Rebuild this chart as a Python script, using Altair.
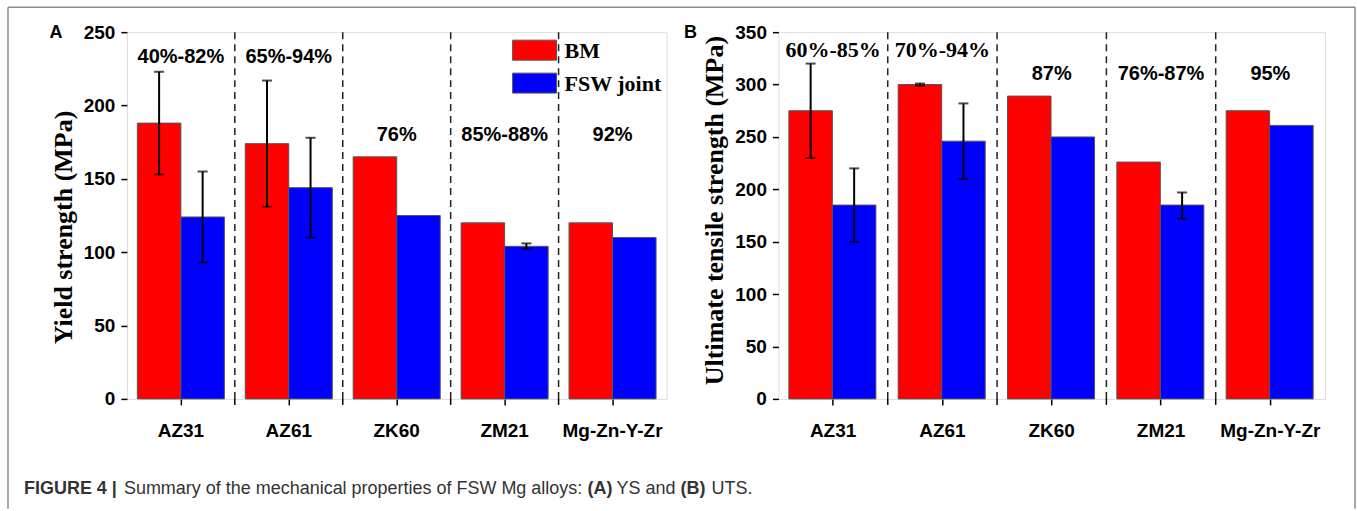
import altair as alt
import pandas as pd

# ---------------- data ----------------
categories = ["AZ31", "AZ61", "ZK60", "ZM21", "Mg-Zn-Y-Zr"]
series = ["BM", "FSW joint"]

# Panel A: yield strength (MPa)
ys_bm = [188, 174, 165, 120, 120]
ys_fsw = [124, 144, 125, 104, 110]
ys_bm_lo = [153, 131, None, None, None]
ys_bm_hi = [223, 217, None, None, None]
ys_fsw_lo = [93, 110, None, 102, None]
ys_fsw_hi = [155, 178, None, 106, None]
ys_ratio = ["40%-82%", "65%-94%", "76%", "85%-88%", "92%"]
ys_ratio_y = [233, 233, 180, 180, 180]

# Panel B: ultimate tensile strength (MPa)
uts_bm = [275, 300, 289, 226, 275]
uts_fsw = [185, 246, 250, 185, 261]
uts_bm_lo = [230, 299, None, None, None]
uts_bm_hi = [320, 301, None, None, None]
uts_fsw_lo = [150, 210, None, 172, None]
uts_fsw_hi = [220, 282, None, 197, None]
uts_ratio = ["60%-85%", "70%-94%", "87%", "76%-87%", "95%"]
uts_ratio_y = [333, 333, 310, 310, 310]

caption_parts = [("FIGURE 4 |", True), ("Summary of the mechanical properties of FSW Mg alloys:", False),
                 ("(A)", True), ("YS and", False), ("(B)", True), ("UTS.", False)]

SANS = "Liberation Sans, Arial, Helvetica, sans-serif"
SERIF = "Liberation Serif, Times New Roman, serif"
H = 367


def bars_df(bm, fsw):
    rows = []
    for i, c in enumerate(categories):
        rows.append({"cat": c, "series": series[0], "value": bm[i]})
        rows.append({"cat": c, "series": series[1], "value": fsw[i]})
    return pd.DataFrame(rows)


def err_df(bm_lo, bm_hi, fsw_lo, fsw_hi):
    rows = []
    for i, c in enumerate(categories):
        if bm_lo[i] is not None:
            rows.append({"cat": c, "series": series[0], "lo": bm_lo[i], "hi": bm_hi[i]})
        if fsw_lo[i] is not None:
            rows.append({"cat": c, "series": series[1], "lo": fsw_lo[i], "hi": fsw_hi[i]})
    return pd.DataFrame(rows)


def one(**kw):
    return pd.DataFrame([kw])


def panel(bm, fsw, bm_lo, bm_hi, fsw_lo, fsw_hi, ratios, ratio_y, ymax, title,
          W, title_x, title_y, letter, letter_x, serif_n, extra=None):
    xscale = alt.Scale(domain=categories, paddingInner=0, paddingOuter=0)
    xaxis = alt.Axis(title=None, labelFont=SANS, labelFontSize=19, labelFontWeight="bold",
                     labelColor="black", labelAngle=0, labelPadding=17, tickSize=6,
                     tickColor="black", tickWidth=1.5, domain=False, grid=False,
                     bandPosition=0.5)
    yaxis = alt.Axis(title=title, values=list(range(0, ymax + 1, 50)), labelFont=SANS,
                     labelFontSize=19, labelFontWeight="bold", labelColor="black",
                     labelPadding=6, tickSize=6, tickColor="black", tickWidth=1.5,
                     domain=False, grid=False, titleFont=SERIF, titleFontSize=26,
                     titleFontWeight="bold", titleColor="black", titleX=title_x,
                     titleY=title_y, titleAngle=270, titleAlign="center",
                     titleBaseline="middle")
    yscale = alt.Scale(domain=[0, ymax], nice=False)
    xoff = alt.XOffset("series:N", sort=series,
                       scale=alt.Scale(domain=series, paddingInner=0, paddingOuter=0.24))
    color = alt.Color("series:N", scale=alt.Scale(domain=series, range=["#ff0000", "#0000ff"]),
                      legend=None)
    x = alt.X("cat:N", scale=xscale, axis=xaxis, sort=categories, bandPosition=0.5)
    xn = alt.X("cat:N", scale=xscale, sort=categories)

    bars = alt.Chart(bars_df(bm, fsw)).mark_bar(stroke="#555555", strokeWidth=1).encode(
        x=x, xOffset=xoff, y=alt.Y("value:Q", scale=yscale, axis=yaxis), color=color)

    edf = err_df(bm_lo, bm_hi, fsw_lo, fsw_hi)
    err = alt.Chart(edf).mark_rule(color="black", strokeWidth=2).encode(
        x=xn, xOffset=xoff, y=alt.Y("lo:Q", scale=yscale), y2="hi:Q")
    cap_lo = alt.Chart(edf).mark_tick(color="black", thickness=2, size=10, orient="horizontal").encode(
        x=xn, xOffset=xoff, y=alt.Y("lo:Q", scale=yscale))
    cap_hi = alt.Chart(edf).mark_tick(color="black", thickness=2, size=10, orient="horizontal").encode(
        x=xn, xOffset=xoff, y=alt.Y("hi:Q", scale=yscale))

    sep_df = pd.DataFrame({"cat": categories[1:]})
    sep = alt.Chart(sep_df).mark_rule(color="#222222", strokeWidth=1.5, strokeDash=[7, 5]).encode(
        x=alt.X("cat:N", scale=xscale, sort=categories, bandPosition=0),
        y=alt.value(0), y2=alt.value(H))
    sep_tick = alt.Chart(sep_df).mark_rule(color="black", strokeWidth=1.5).encode(
        x=alt.X("cat:N", scale=xscale, sort=categories, bandPosition=0),
        y=alt.value(H), y2=alt.value(H + 6))

    ann = pd.DataFrame({"cat": categories, "label": ratios, "y": ratio_y})
    serif_cats = categories[:serif_n]
    sans_cats = categories[serif_n:]
    layers = [bars, sep, sep_tick, err, cap_lo, cap_hi]
    if serif_cats:
        layers.append(alt.Chart(ann).transform_filter(
            alt.FieldOneOfPredicate(field="cat", oneOf=serif_cats)).mark_text(
            font=SERIF, fontSize=22, fontWeight="bold", color="black").encode(
            x=xn, y=alt.Y("y:Q", scale=yscale), text="label:N"))
    layers.append(alt.Chart(ann).transform_filter(
        alt.FieldOneOfPredicate(field="cat", oneOf=sans_cats)).mark_text(
        font=SANS, fontSize=20, fontWeight="bold", color="black").encode(
        x=xn, y=alt.Y("y:Q", scale=yscale), text="label:N"))

    layers.append(alt.Chart(one(t=letter)).mark_text(
        font=SANS, fontSize=18, fontWeight="bold", color="black").encode(
        x=alt.value(letter_x), y=alt.value(1), text="t:N"))
    if extra:
        layers += extra
    return alt.layer(*layers).properties(width=W, height=H)


# legend + caption + border decorations (drawn inside panel A)
color_l = alt.Color("series:N", scale=alt.Scale(domain=series, range=["#ff0000", "#0000ff"]),
                    legend=None)
deco = []
for i, s in enumerate(series):
    y0 = 8 + 33 * i
    deco.append(alt.Chart(one(series=s)).mark_rect(stroke="#555555", strokeWidth=1).encode(
        x=alt.value(386), x2=alt.value(430), y=alt.value(y0), y2=alt.value(y0 + 20), color=color_l))
    deco.append(alt.Chart(one(series=s)).mark_text(
        font=SERIF, fontSize=22, fontWeight="bold", color="black", align="left",
        baseline="middle").encode(x=alt.value(438), y=alt.value(y0 + 11), text="series:N"))

cap_x = [-103, -3, 461, 490, 554, 585]
for (txt, bold), cx in zip(caption_parts, cap_x):
    deco.append(alt.Chart(one(t=txt)).mark_text(
        font=SANS, fontSize=18, fontWeight="bold" if bold else "normal", color="#333333",
        align="left", baseline="middle").encode(x=alt.value(cx), y=alt.value(457), text="t:N"))

BORDER = "#8c8c8c"
deco.append(alt.Chart(one(a=1)).mark_rule(color=BORDER, strokeWidth=1.5).encode(
    x=alt.value(-119), y=alt.value(-25), y2=alt.value(477)))
deco.append(alt.Chart(one(a=1)).mark_rule(color=BORDER, strokeWidth=1.5).encode(
    x=alt.value(-119), x2=alt.value(1229), y=alt.value(-25)))
deco.append(alt.Chart(one(a=1)).mark_rule(color=BORDER, strokeWidth=1.5).encode(
    x=alt.value(1229), y=alt.value(-25), y2=alt.value(477)))

chart_a = panel(ys_bm, ys_fsw, ys_bm_lo, ys_bm_hi, ys_fsw_lo, ys_fsw_hi, ys_ratio, ys_ratio_y,
                250, "Yield strength (MPa)", 540, -63, 195, "A", -71, 0, extra=deco)
chart_b = panel(uts_bm, uts_fsw, uts_bm_lo, uts_bm_hi, uts_fsw_lo, uts_fsw_hi, uts_ratio,
                uts_ratio_y, 350, "Ultimate tensile strength (MPa)", 547, -64, 178, "B", -88, 2)

chart = alt.hconcat(chart_a, chart_b, spacing=112, bounds="flush").properties(
    padding={"left": 6, "top": 5, "right": 0, "bottom": 0}
).configure_view(stroke="black", strokeWidth=2.5).configure(background="white")

chart.save("out.html", embed_options={"renderer": "svg", "actions": False})
